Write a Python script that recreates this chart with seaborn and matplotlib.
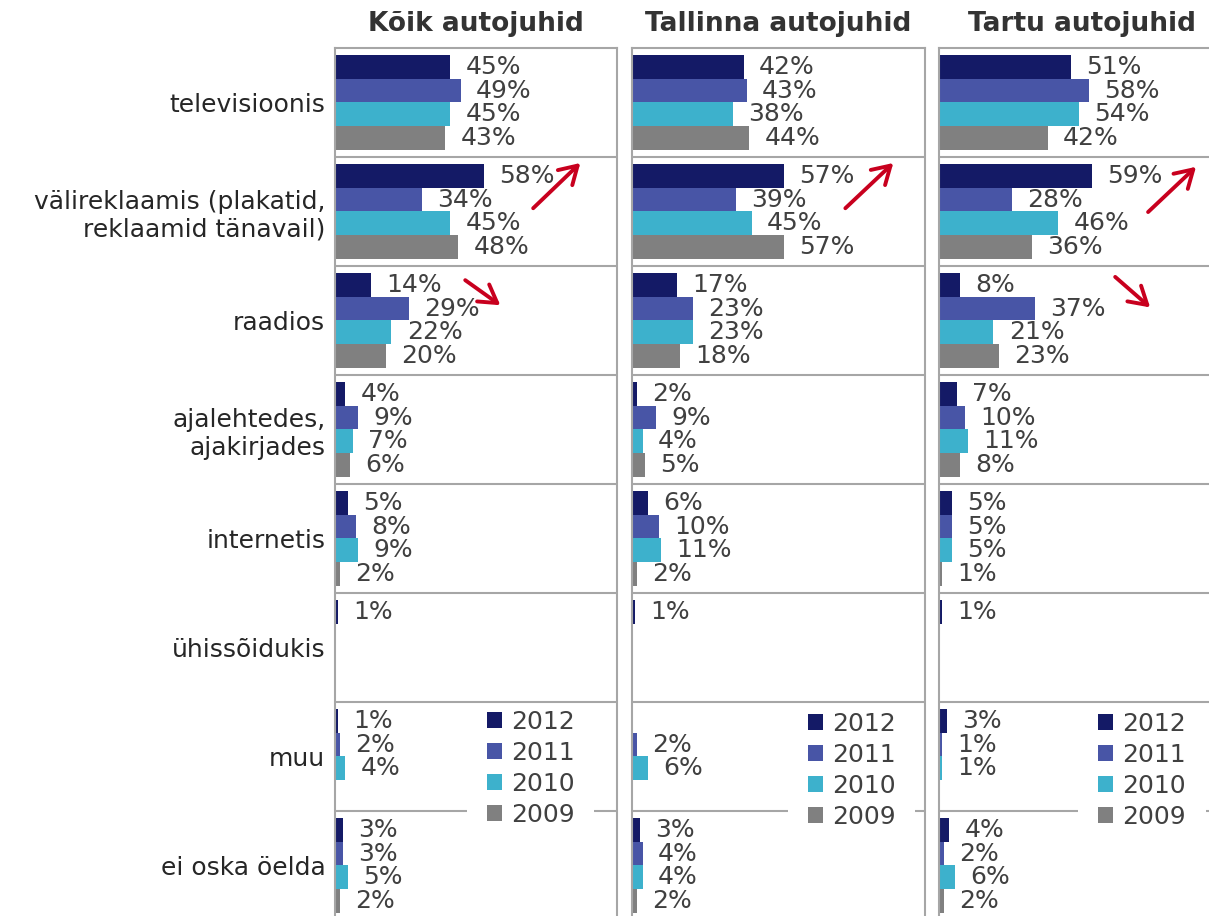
import numpy as np
import pandas as pd
import matplotlib
matplotlib.use("Agg")
import matplotlib.pyplot as plt
from matplotlib.patches import Patch
import seaborn as sns

sns.set_theme(style="white")
plt.rcParams['font.family'] = ['DejaVu Sans']

categories = ["televisioonis", "välireklaamis (plakatid,\nreklaamid tänavail)", "raadios",
              "ajalehtedes,\najakirjades", "internetis", "ühissõidukis", "muu", "ei oska öelda"]
years = ["2012", "2011", "2010", "2009"]
colors = ["#141A66", "#4855A6", "#3DB1CC", "#808080"]
panel_titles = ["Kõik autojuhid", "Tallinna autojuhid", "Tartu autojuhid"]

nan = np.nan
koik_2012 = [45, 58, 14, 4, 5, 1, 1, 3]
koik_2011 = [49, 34, 29, 9, 8, nan, 2, 3]
koik_2010 = [45, 45, 22, 7, 9, nan, 4, 5]
koik_2009 = [43, 48, 20, 6, 2, nan, nan, 2]

tallinn_2012 = [42, 57, 17, 2, 6, 1, nan, 3]
tallinn_2011 = [43, 39, 23, 9, 10, nan, 2, 4]
tallinn_2010 = [38, 45, 23, 4, 11, nan, 6, 4]
tallinn_2009 = [44, 57, 18, 5, 2, nan, nan, 2]

tartu_2012 = [51, 59, 8, 7, 5, 1, 3, 4]
tartu_2011 = [58, 28, 37, 10, 5, nan, 1, 2]
tartu_2010 = [54, 46, 21, 11, 5, nan, 1, 6]
tartu_2009 = [42, 36, 23, 8, 1, nan, nan, 2]

panels = [
    [koik_2012, koik_2011, koik_2010, koik_2009],
    [tallinn_2012, tallinn_2011, tallinn_2010, tallinn_2009],
    [tartu_2012, tartu_2011, tartu_2010, tartu_2009],
]

# trend arrows (annotation decorations): (x0, y0, x1, y1) in data units
arrows = [
    [(77.3, 0.97, 95.7, 0.555), (50.8, 1.63, 64.5, 1.86)],
    [(80.1, 0.97, 98.1, 0.555)],
    [(80.7, 1.005, 99.2, 0.59), (68.0, 1.60, 81.5, 1.88)],
]

W, H = 1209, 916
fig = plt.figure(figsize=(W / 100, H / 100), dpi=100)
top_px, row_px = 48, 109
bottom_px = top_px + row_px * len(categories)
ax_pos = [(335, 617), (632, 925), (939, 1224)]
legend_anchor = [(0.468, 0.2636), (0.532, 0.2616), (0.488, 0.2615)]

grid_col = "#A6A6A6"
val_col = "#404040"
palette = dict(zip(years, colors))

for p, (vals, (l, r)) in enumerate(zip(panels, ax_pos)):
    ax = fig.add_axes([l / W, 1 - bottom_px / H, (r - l) / W, (bottom_px - top_px) / H])
    rows = []
    for y, series in zip(years, vals):
        for c, v in zip(categories, series):
            if not np.isnan(v):
                rows.append({"category": c, "year": y, "value": v})
    df = pd.DataFrame(rows)
    sns.barplot(data=df, y="category", x="value", hue="year", order=categories,
                hue_order=years, palette=palette, width=0.88, gap=0, orient="h",
                ax=ax, legend=False, errorbar=None, linewidth=0, saturation=1)
    for cont in ax.containers:
        ax.bar_label(cont, fmt="%.0f%%", padding=11, fontsize=18, color=val_col)
    ax.set_xlim(0, 110)
    ax.set_ylim(len(categories) - 0.5, -0.5)
    ax.set_xlabel("")
    ax.set_ylabel("")
    ax.set_xticks([])
    n = len(categories)
    for i in range(n - 1):
        # the separator under "muu" passes behind the legend box
        ax.axhline(i + 0.5, color=grid_col, lw=1.5, zorder=1 if i == n - 2 else 11)
    for s in ax.spines.values():
        s.set_color(grid_col)
        s.set_linewidth(1.5)
        s.set_zorder(12)
    if p == 0:
        ax.tick_params(axis="y", length=0, pad=7, labelsize=18, labelcolor="#262626")
    else:
        ax.set_yticks(range(len(categories)))
        ax.set_yticklabels([])
        ax.tick_params(axis="y", length=0)
    ax.set_title(panel_titles[p], fontsize=19, fontweight="bold", color="#333333", pad=12)
    handles = [Patch(facecolor=c, edgecolor="none") for c in colors]
    leg = ax.legend(handles, years, loc="upper left", bbox_to_anchor=legend_anchor[p],
                    frameon=True, facecolor="white", edgecolor="none", framealpha=1,
                    fontsize=18, handlelength=0.6, handleheight=0.6, handletextpad=0.35,
                    labelspacing=0.28, borderpad=0.8, borderaxespad=0)
    for t in leg.get_texts():
        t.set_color(val_col)
    leg.set_zorder(10)
    for (x0, y0, x1, y1) in arrows[p]:
        ax.annotate("", xy=(x1, y1), xytext=(x0, y0),
                    arrowprops=dict(arrowstyle="->,head_length=0.5,head_width=0.3",
                                    color="#C8001E", lw=2.8, mutation_scale=25,
                                    shrinkA=0, shrinkB=0))

fig.savefig("out.png", dpi=100)
